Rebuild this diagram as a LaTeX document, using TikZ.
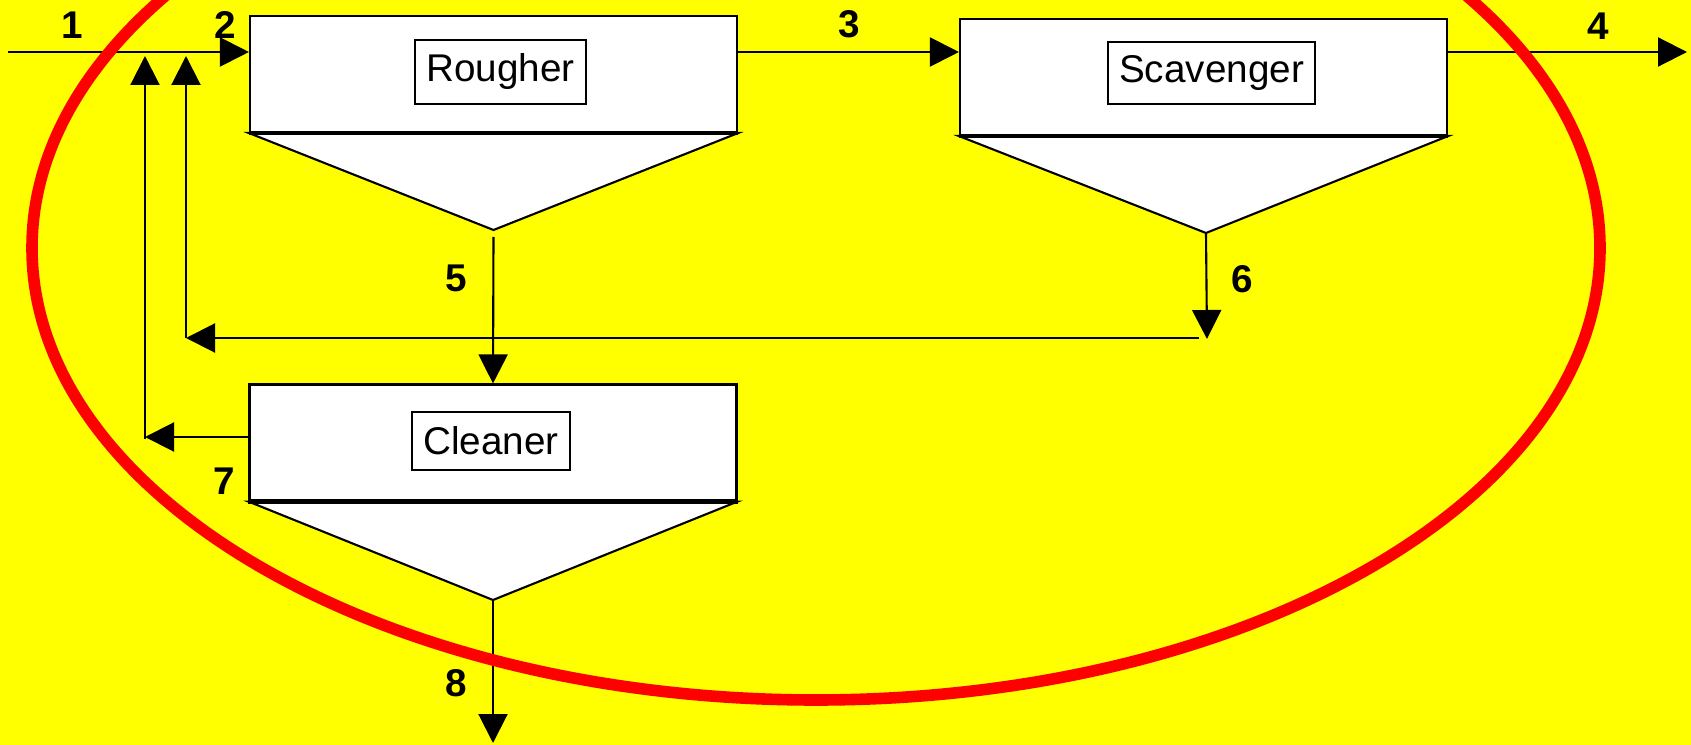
\documentclass[tikz,border=0pt]{standalone}
\usepackage{fontspec}
\setmainfont{Liberation Sans}
\usetikzlibrary{arrows.meta}
\definecolor{padyellow}{RGB}{255,255,0}
\definecolor{loopred}{RGB}{255,0,0}

\begin{document}
\begin{tikzpicture}[
    cell/.style={draw, fill=white, line width=0.6pt, minimum width=4.87cm, minimum height=1.16cm, inner sep=0pt},
    cone/.style={draw, fill=white, line width=0.6pt},
    rim/.style={line width=1.3pt},
    tag/.style={draw, fill=white, line width=0.6pt, inner sep=0pt, font=\fontsize{11}{13}\selectfont},
    num/.style={inner sep=0pt, font=\fontsize{11}{13}\selectfont\bfseries},
    flow/.style={line width=0.6pt, -{Triangle[length=0.29cm,width=0.29cm]}}
]

        % Background
        \fill[padyellow] (0,0) rectangle (16.91,-7.45);
        \useasboundingbox (0,0) rectangle (16.91,-7.45);
        \clip (0,0) rectangle (16.91,-7.45);

        % Cells
        \node[cell] (rougher)   at ( 4.935,-0.74) {};
        \node[cell] (scavenger) at (12.035,-0.77) {};
        \node[cell] (cleaner)   at ( 4.93, -4.425) {};

        \coordinate (rougherTip)   at ( 4.935,-2.30);
        \coordinate (scavengerTip) at (12.06, -2.33);
        \coordinate (cleanerTip)   at ( 4.93, -6.00);

        \draw[cone] (rougher.south west) -- (rougherTip) -- (rougher.south east) -- cycle;
        \draw[cone] (scavenger.south west) -- (scavengerTip) -- (scavenger.south east) -- cycle;
        \draw[cone] (cleaner.south west) -- (cleanerTip) -- (cleaner.south east) -- cycle;
        \draw[rim] (rougher.south west) -- (rougher.south east);
        \draw[rim] (scavenger.south west) -- (scavenger.south east);
        \draw[rim] (cleaner.south west) -- (cleaner.south east);

        \node[tag, minimum width=1.71cm, minimum height=0.64cm] (rougherTag)   at ( 5.005,-0.72) {Rougher};
        \node[tag, minimum width=2.07cm, minimum height=0.62cm] (scavengerTag) at (12.115,-0.73) {Scavenger};
        \node[tag, minimum width=1.58cm, minimum height=0.58cm] (cleanerTag)   at ( 4.91, -4.41) {Cleaner};

        % Main line
        \coordinate (feed) at ( 0.08,-0.52);
        \coordinate (tail) at (16.87,-0.52);
        \draw[flow] (feed) -- (feed -| rougher.west);
        \draw[flow] (feed -| rougher.east) -- (feed -| scavenger.west);
        \draw[flow] (feed -| scavenger.east) -- (tail);

        % Rougher concentrate to cleaner
        \draw[flow] ([yshift=-0.07cm]rougherTip) -- (cleaner.north);

        % Scavenger concentrate back to feed
        \coordinate (scavDrop)  at (12.07,-3.39);
        \coordinate (scavTurn)  at (11.99,-3.38);
        \coordinate (recycleA)  at ( 1.86,-3.38);
        \coordinate (recycleAUp) at ( 1.86,-0.56);
        \draw[flow] (scavengerTip) -- (scavDrop);
        \draw[flow] (scavTurn) -- (recycleA);
        \draw[flow] (recycleA) -- (recycleAUp);

        % Cleaner tail back to feed
        \coordinate (recycleB)   at ( 1.45,-4.37);
        \coordinate (recycleBUp) at ( 1.45,-0.56);
        \draw[flow] (cleaner.west |- recycleB) -- (recycleB);
        \draw[flow] ([yshift=-0.02cm]recycleB) -- (recycleBUp);

        % Final concentrate
        \coordinate (conc) at (4.93,-7.43);
        \draw[flow] (cleanerTip) -- (conc);

        % Stream numbers
        \node[num] (n1) at ( 0.72,-0.25) {1};
        \node[num] (n2) at ( 2.25,-0.25) {2};
        \node[num] (n3) at ( 8.49,-0.24) {3};
        \node[num] (n4) at (15.98,-0.26) {4};
        \node[num] (n5) at ( 4.56,-2.78) {5};
        \node[num] (n6) at (12.42,-2.79) {6};
        \node[num] (n7) at ( 2.24,-4.81) {7};
        \node[num] (n8) at ( 4.56,-6.83) {8};

        % Circuit boundary
        \draw[loopred, line width=3.3pt] (8.16,-2.48) ellipse (7.84 and 4.52);

    \end{tikzpicture}
\end{document}
